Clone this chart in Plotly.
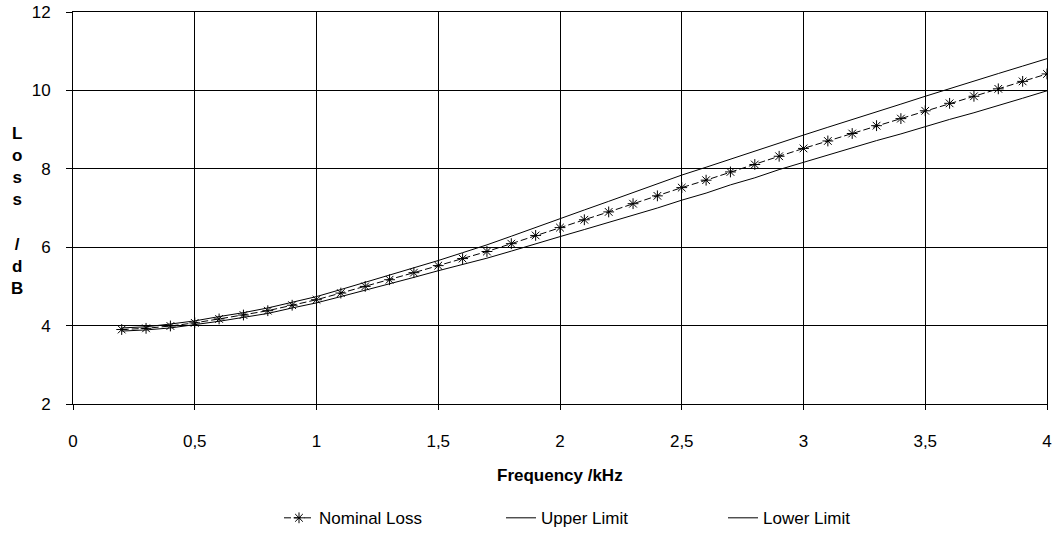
import plotly.graph_objects as go

freq = [0.2, 0.3, 0.4, 0.5, 0.6, 0.7, 0.8, 0.9, 1.0, 1.1, 1.2, 1.3, 1.4, 1.5, 1.6, 1.7, 1.8, 1.9, 2.0,
        2.1, 2.2, 2.3, 2.4, 2.5, 2.6, 2.7, 2.8, 2.9, 3.0, 3.1, 3.2, 3.3, 3.4, 3.5, 3.6, 3.7, 3.8, 3.9, 4.0]
nominal = [3.90, 3.93, 3.99, 4.07, 4.17, 4.27, 4.38, 4.52, 4.66, 4.83, 5.00, 5.17, 5.35, 5.53, 5.71, 5.89,
           6.09, 6.30, 6.50, 6.70, 6.90, 7.11, 7.31, 7.52, 7.71, 7.92, 8.11, 8.32, 8.52, 8.71, 8.90, 9.10,
           9.28, 9.48, 9.67, 9.85, 10.04, 10.23, 10.42]
upper = [3.94, 3.97, 4.04, 4.12, 4.23, 4.33, 4.45, 4.59, 4.74, 4.92, 5.10, 5.28, 5.47, 5.66, 5.86, 6.06,
         6.28, 6.51, 6.73, 6.95, 7.17, 7.40, 7.62, 7.84, 8.04, 8.25, 8.45, 8.66, 8.86, 9.06, 9.25, 9.46,
         9.65, 9.85, 10.05, 10.24, 10.43, 10.62, 10.81]
lower = [3.86, 3.89, 3.94, 4.02, 4.11, 4.21, 4.31, 4.45, 4.58, 4.74, 4.90, 5.06, 5.23, 5.40, 5.56, 5.72,
         5.90, 6.09, 6.27, 6.45, 6.63, 6.82, 7.00, 7.20, 7.38, 7.59, 7.77, 7.98, 8.17, 8.35, 8.53, 8.72,
         8.89, 9.08, 9.26, 9.43, 9.61, 9.80, 9.99]

x_tickvals = [0, 0.5, 1, 1.5, 2, 2.5, 3, 3.5, 4]
x_ticktext = ["0", "0,5", "1", "1,5", "2", "2,5", "3", "3,5", "4"]
y_tickvals = [2, 4, 6, 8, 10, 12]
y_ticktext = ["2", "4", "6", "8", "10", "12"]

FONT = "Liberation Sans, Arial, sans-serif"

fig = go.Figure()
fig.add_trace(go.Scatter(
    x=freq, y=nominal, name="Nominal Loss", mode="lines+markers",
    line=dict(color="black", width=1, dash="7px,3px"),
    marker=dict(symbol="asterisk-open", size=9, color="black", line=dict(color="black", width=1)),
))
fig.add_trace(go.Scatter(
    x=freq, y=upper, name="Upper Limit", mode="lines",
    line=dict(color="black", width=1),
))
fig.add_trace(go.Scatter(
    x=freq, y=lower, name="Lower Limit", mode="lines",
    line=dict(color="black", width=1),
))

fig.update_layout(
    width=1057, height=546,
    margin=dict(l=73, r=10, t=12, b=136),
    paper_bgcolor="white", plot_bgcolor="white",
    font=dict(family=FONT, size=17, color="black"),
    showlegend=True,
    legend=dict(orientation="h", x=0.2115, xanchor="left", y=-0.2915, yanchor="middle",
                entrywidth=177, entrywidthmode="pixels",
                font=dict(family=FONT, size=17, color="black"),
                bgcolor="rgba(0,0,0,0)"),
    xaxis=dict(range=[0, 4], tickmode="array", tickvals=x_tickvals, ticktext=x_ticktext,
               showgrid=True, gridcolor="black", gridwidth=1, automargin=False,
               showline=True, linecolor="black", linewidth=1, mirror=True,
               ticks="outside", ticklen=5, tickcolor="black", ticklabelstandoff=17,
               zeroline=False, tickfont=dict(family=FONT, size=17, color="black")),
    yaxis=dict(range=[2, 12], tickmode="array", tickvals=y_tickvals, ticktext=y_ticktext,
               showgrid=True, gridcolor="black", gridwidth=1, automargin=False,
               showline=True, linecolor="black", linewidth=1, mirror=True,
               ticks="outside", ticklen=6, tickcolor="black", ticklabelstandoff=12,
               zeroline=False, tickfont=dict(family=FONT, size=17, color="black")),
    annotations=[
        dict(text="<b>Frequency /kHz</b>", xref="paper", yref="paper",
             x=0.5, y=-0.1834, xanchor="center", yanchor="middle", showarrow=False,
             font=dict(family=FONT, size=17, color="black")),
        dict(text="<b>L<br>o<br>s<br>s<br> <br>/<br>d<br>B</b>", xref="paper", yref="paper",
             x=-0.0575, y=0.4925, xanchor="center", yanchor="middle", showarrow=False,
             align="center", font=dict(family=FONT, size=17, color="black")),
    ],
)

fig.write_html("out.html", config={"displayModeBar": False},
               post_script="document.body.style.margin='0';document.body.style.overflow='hidden';")
